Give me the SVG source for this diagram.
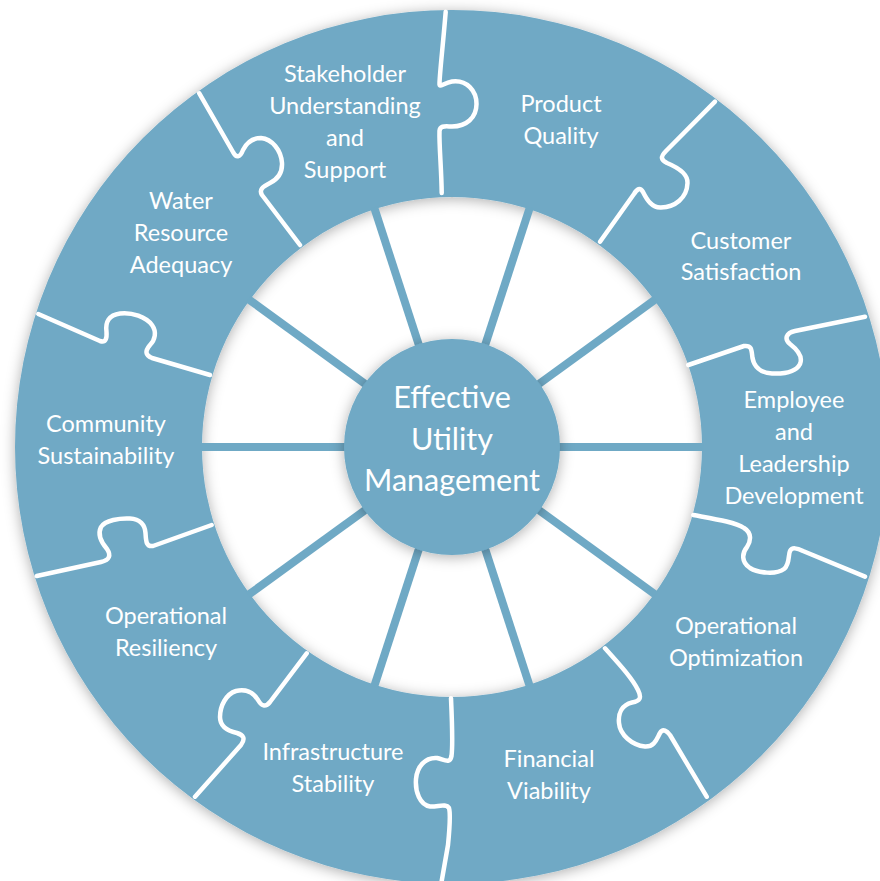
<svg xmlns="http://www.w3.org/2000/svg" width="880" height="881" viewBox="0 0 880 881">
<style>
.lbl{font-family:Lato,"Open Sans","Liberation Sans",sans-serif;font-size:23.5px;fill:#fff;text-anchor:middle}
.ctr{font-family:Lato,"Open Sans","Liberation Sans",sans-serif;font-size:30.5px;fill:#fff;text-anchor:middle}
.seam{fill:none;stroke:#fff;stroke-width:4.5;stroke-linecap:round;stroke-linejoin:round}
.spoke{stroke:#6fa9c5;stroke-width:8}
</style>
<defs>
<filter id="sh" x="-10%" y="-10%" width="120%" height="120%">
<feGaussianBlur in="SourceAlpha" stdDeviation="7"/>
<feOffset dx="0" dy="2" result="b"/>
<feFlood flood-color="#000" flood-opacity="0.32"/>
<feComposite in2="b" operator="in"/>
<feMerge><feMergeNode/><feMergeNode in="SourceGraphic"/></feMerge>
</filter>
</defs>
<rect width="880" height="881" fill="#fff"/>
<path id="ring" filter="url(#sh)" fill="#6fa9c5" fill-rule="evenodd" d="M15,447 a437,437 0 1,0 874,0 a437,437 0 1,0 -874,0 Z M202,447 a250,250 0 1,0 500,0 a250,250 0 1,0 -500,0 Z"/>
<g id="connectors">
<line class="spoke" x1="452" y1="447" x2="704" y2="447"/>
<line class="spoke" x1="452" y1="447" x2="200" y2="447"/>
<line class="spoke" x1="452" y1="447" x2="655.9" y2="298.9"/>
<line class="spoke" x1="452" y1="447" x2="529.9" y2="207.3"/>
<line class="spoke" x1="452" y1="447" x2="374.1" y2="207.3"/>
<line class="spoke" x1="452" y1="447" x2="248.1" y2="298.9"/>
<line class="spoke" x1="452" y1="447" x2="248.1" y2="595.1"/>
<line class="spoke" x1="452" y1="447" x2="374.1" y2="686.7"/>
<line class="spoke" x1="452" y1="447" x2="529.9" y2="686.7"/>
<line class="spoke" x1="452" y1="447" x2="655.9" y2="595.1"/>
</g>
<g id="seams">
<path class="seam" d="M445.7,11.7 C443,45 440,70 439.5,83 C439,89 443,83 452,81.5 C467,79.5 476.5,91 476.5,104 C476.5,118 466,126.5 452,126.5 C446,126.5 440,125 439.5,131 C439,145 441.5,170 441.7,193"/>
<path class="seam" d="M715,101.7 L666,151 C660,157 661,160 667,163 C679,168 688,175 687.5,183 C687,198 675,207 661,207.5 C652,208 647,200 643,192 C640,187 637,189 634,194 L600,241.7"/>
<path class="seam" d="M865,316.7 L795,331 C786,333 784,339 790,344 C799,351 803,357 800,364 C796,372 784,374 772,373.5 C760,373 754,366 752.5,358 C751.5,350 752,345 744,346 L688.3,365"/>
<path class="seam" d="M693.3,515 C715,519 735,522 744,528 C752,533 751,541 747,547 C742,553 741,562 750,568 C758,573 776,575 784,569 C790,564 788,555 790,551 C792,547 797,548 803,551 L865,576.7"/>
<path class="seam" d="M605,648.3 C620,665 632,678 638,690 C642,698 640,701 632,702.5 C622,705 618,713 619,723 C620,735 632,745 645,746.5 C655,747 657,738 660,733 C663,728 667,731 670,735 L706.7,796.7"/>
<path class="seam" d="M451,698.3 C452,720 453,745 451.5,756 C450,764 445,760 437,758 C425,757 417,767 416,779 C415,792 420,805 430,806.5 C438,807 446,803 449,808 C451,815 449,835 448,845 L441.7,881"/>
<path class="seam" d="M306.7,653.3 L270,702 C266,707 262,707 258,700 C253,692 245,689 236,691 C226,694 220,706 220,717 C220,727 228,731 237,733 C243,735 246,738 241,745 L195,796.7"/>
<path class="seam" d="M36.7,576 L101,562 C110,560 111,555 107,549 C101,542 97,535 101,527 C105,520 120,518 130,518.5 C140,519 145,525 145.5,533 C146,541 146,547 153,546 L211.7,525"/>
<path class="seam" d="M38.3,314 L100,341 C106,343 107,338 106.5,332 C105,322 109,315 120,313.5 C132,312 146,317 152,325 C157,332 155,340 150,345 C145,351 145,355 152,358 L210,375"/>
<path class="seam" d="M199.3,93.3 L233,152 C236,158 240,158 243,150 C247,142 252,138 261,138 C272,139 281,150 282,163 C282.5,173 278,179 270,183 C262,187 259,190 262,195 L300,245"/>
</g>
<g id="center">
<circle cx="452" cy="447" r="108" fill="#6fa9c5" filter="url(#sh)"/>
<text class="ctr" x="452" y="408">Effective</text>
<text class="ctr" x="452" y="450">Utility</text>
<text class="ctr" x="452" y="491">Management</text>
</g>
<g id="stakeholder"><text class="lbl" x="345" y="82">Stakeholder</text><text class="lbl" x="345" y="114">Understanding</text><text class="lbl" x="345" y="146">and</text><text class="lbl" x="345" y="178">Support</text></g>
<g id="product"><text class="lbl" x="561" y="112">Product</text><text class="lbl" x="561" y="144">Quality</text></g>
<g id="customer"><text class="lbl" x="741" y="249">Customer</text><text class="lbl" x="741" y="280">Satisfaction</text></g>
<g id="employee"><text class="lbl" x="794" y="408">Employee</text><text class="lbl" x="794" y="440">and</text><text class="lbl" x="794" y="472">Leadership</text><text class="lbl" x="794" y="504">Development</text></g>
<g id="optimization"><text class="lbl" x="736" y="634">Operational</text><text class="lbl" x="736" y="666">Optimization</text></g>
<g id="financial"><text class="lbl" x="549" y="767">Financial</text><text class="lbl" x="549" y="799">Viability</text></g>
<g id="infrastructure"><text class="lbl" x="333" y="760">Infrastructure</text><text class="lbl" x="333" y="792">Stability</text></g>
<g id="resiliency"><text class="lbl" x="166" y="624">Operational</text><text class="lbl" x="166" y="656">Resiliency</text></g>
<g id="community"><text class="lbl" x="106" y="432">Community</text><text class="lbl" x="106" y="464">Sustainability</text></g>
<g id="water"><text class="lbl" x="181" y="209">Water</text><text class="lbl" x="181" y="241">Resource</text><text class="lbl" x="181" y="273">Adequacy</text></g>
</svg>
